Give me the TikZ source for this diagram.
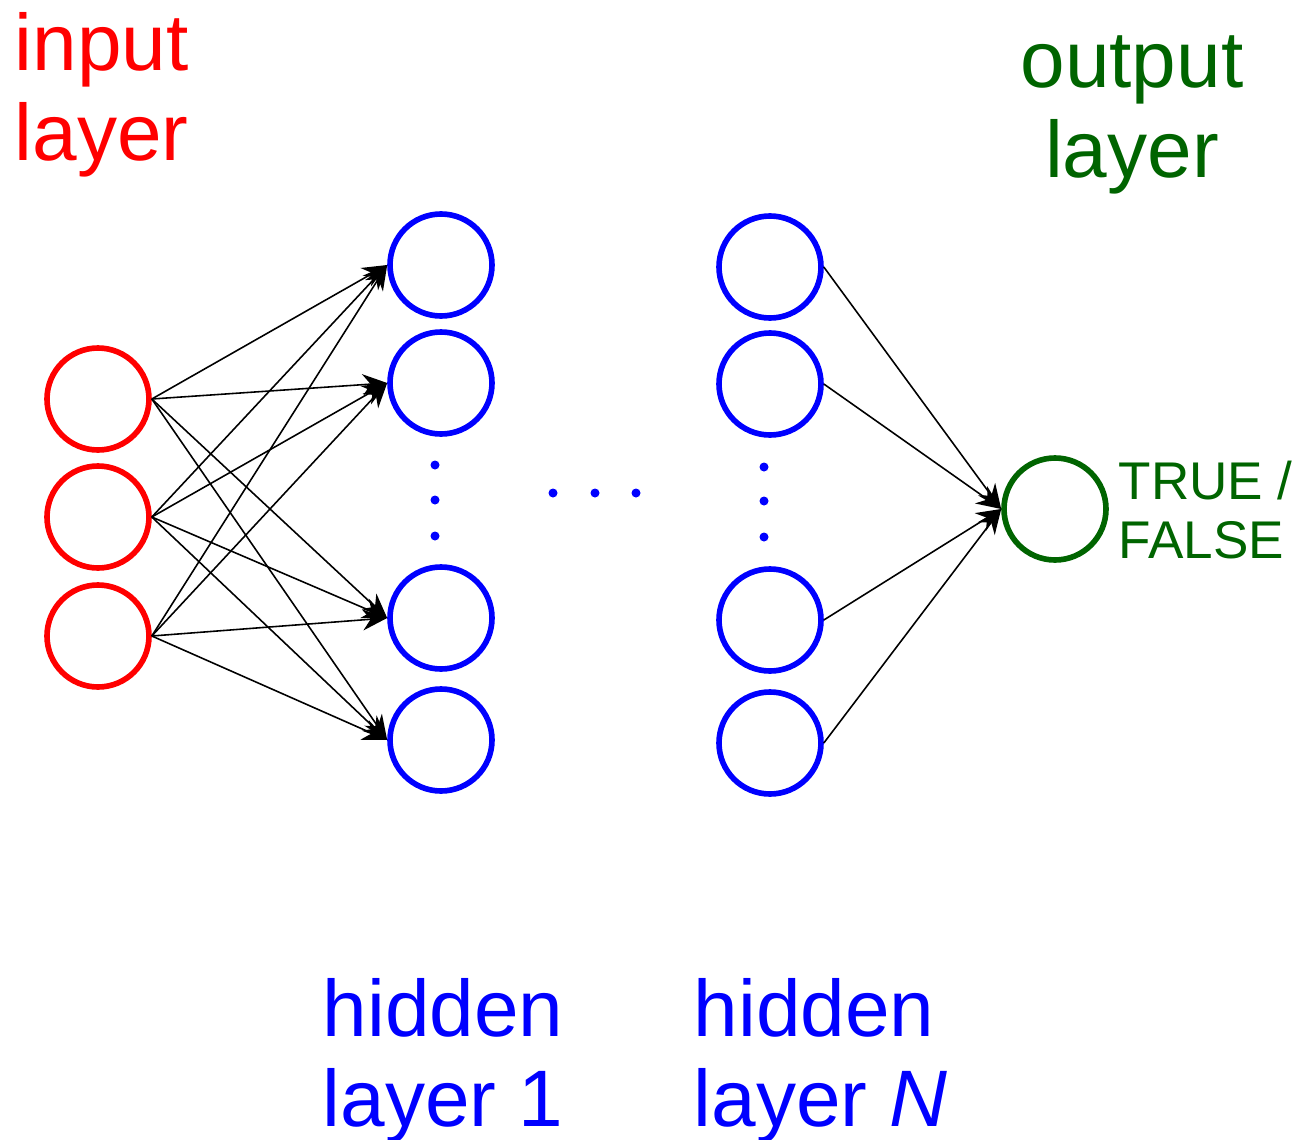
\documentclass[tikz,border=0pt]{standalone}
\usepackage{fontspec}
\setmainfont{Liberation Sans}
\usetikzlibrary{arrows.meta}
\definecolor{inred}{RGB}{255,0,0}
\definecolor{hidblue}{RGB}{0,0,255}
\definecolor{outgreen}{RGB}{0,100,0}

\begin{document}
\begin{tikzpicture}[>={Stealth[length=7pt,width=6pt]},
	neuron/.style={circle, draw, line width=1.6pt, minimum size=1.02cm, inner sep=0pt},
	link/.style={->, line width=0.45pt},
	bigtext/.style={font=\fontsize{22.8}{25.6}\selectfont, inner sep=0pt},
	smalltext/.style={font=\fontsize{15.1}{17}\selectfont, inner sep=0pt}]
\useasboundingbox (0,0) rectangle (13.13,11.39);
%========================================
% INPUT layer
%========================================
\node[neuron, draw=inred] (in1) at (0.98,7.40) {};
\node[neuron, draw=inred] (in2) at (0.98,6.22) {};
\node[neuron, draw=inred] (in3) at (0.98,5.03) {};
\node[bigtext, text=inred, align=left, anchor=north west] (inlab) at (0.14,11.27) {input\\layer};
%========================================
% HIDDEN layer 1
%========================================
\node[neuron, draw=hidblue] (ha1) at (4.41,8.74) {};
\node[neuron, draw=hidblue] (ha2) at (4.41,7.56) {};
\node[neuron, draw=hidblue] (ha3) at (4.41,5.21) {};
\node[neuron, draw=hidblue] (ha4) at (4.41,3.99) {};
% vertical dots
\foreach \y in {6.74,6.39,6.03}
	\fill[hidblue] (4.35,\y) circle (0.045);
\node[bigtext, text=hidblue, align=center, anchor=north] (halab) at (4.43,1.61) {hidden\\layer 1};
%========================================
% HIDDEN layer N
%========================================
\node[neuron, draw=hidblue] (hb1) at (7.70,8.72) {};
\node[neuron, draw=hidblue] (hb2) at (7.70,7.55) {};
\node[neuron, draw=hidblue] (hb3) at (7.70,5.19) {};
\node[neuron, draw=hidblue] (hb4) at (7.70,3.96) {};
% vertical dots
\foreach \y in {6.72,6.38,6.02}
	\fill[hidblue] (7.64,\y) circle (0.045);
\node[bigtext, text=hidblue, align=left, anchor=north west] (hblab) at (6.93,1.61) {hidden\\layer \textit{N}};
% dots between the hidden layers
\foreach \x in {5.53,5.95,6.36}
	\fill[hidblue] (\x,6.46) circle (0.045);
%========================================
% OUTPUT layer
%========================================
\node[neuron, draw=outgreen] (out) at (10.55,6.30) {};
\node[bigtext, text=outgreen, align=center, anchor=north] (outlab) at (11.32,11.04) {output\\layer};
\node[smalltext, text=outgreen, align=left, anchor=north west] (tf) at (11.18,6.79) {TRUE /\\FALSE};
%========================================
% CONNECTIONS
%========================================
\foreach \i in {1,2,3}
	\foreach \h in {1,2,3,4}
		\draw[link] (in\i.east) -- (ha\h.west);
\foreach \h in {1,2,3,4}
	\draw[link] (hb\h.east) -- (out.west);
\end{tikzpicture}
\end{document}
